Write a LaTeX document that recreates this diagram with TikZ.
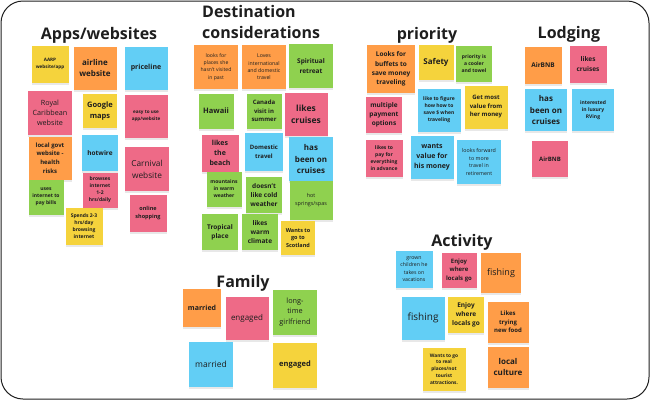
\documentclass[tikz,border=0pt]{standalone}
\usepackage{fontspec}
\setmainfont{Open Sans}
\usepackage{tikz}
\usetikzlibrary{shadows}
\definecolor{ink}{HTML}{1E1E1E}
\definecolor{nyel}{HTML}{F5D33C}
\definecolor{norg}{HTML}{FF9D48}
\definecolor{nblu}{HTML}{62CEF5}
\definecolor{npnk}{HTML}{EE6A87}
\definecolor{ngrn}{HTML}{8FD14F}

\begin{document}
\begin{tikzpicture}[x=1pt,y=-1pt,
  note/.style={inner sep=1pt,align=center,text=ink,minimum width=#1,minimum height=#1,
    drop shadow={shadow xshift=0pt,shadow yshift=-2pt,opacity=0.18}},
  note/.default=36,
  fz/.style={font=\fontsize{#1}{\fpeval{1.42*#1}}\selectfont\bfseries},
  rz/.style={font=\fontsize{#1}{\fpeval{1.42*#1}}\selectfont},
  head/.style={font=\fontsize{16}{21}\selectfont\bfseries,text=ink,inner sep=0pt,anchor=base}]
  \useasboundingbox (0,0) rectangle (650,400);
  \draw[ink,line width=1pt,rounded corners=22pt] (1,1) rectangle (649,399);

  % apps and websites
  \node[head] (tApps) at (99,39) {Apps/websites};
  \node[note=37,fill=nyel,fz=4.6] (aarp) at (50,64) {AARP\\website/app};
  \node[note=43,fill=norg,fz=8] (airline) at (95,68) {airline\\website};
  \node[note=43,fill=nblu,fz=7] (priceline) at (146,68) {priceline};
  \node[note=44,fill=npnk,rz=7.2] (royal) at (50,113) {Royal\\Caribbean\\website};
  \node[note=34,fill=nyel,fz=7.5] (gmaps) at (100,111) {Google\\maps};
  \node[note=43,fill=npnk,fz=4.6] (easy) at (146,116) {easy to use\\app/website};
  \node[note=43,fill=norg,fz=6] (govt) at (50,158) {local govt\\website -\\health\\risks};
  \node[note=36,fill=nblu,fz=6.5] (hotwire) at (100,153) {hotwire};
  \node[note=35,fill=npnk,fz=5] (browse) at (100,190) {browses\\internet\\1-2\\hrs/daily};
  \node[note=44,fill=npnk,rz=8.3] (carnival) at (147,169) {Carnival\\website};
  \node[note=35,fill=ngrn,fz=5] (bills) at (46,197) {uses\\internet to\\pay bills};
  \node[note=37,fill=nyel,fz=5] (spends) at (84,226) {Spends 2-3\\hrs/day\\browsing\\internet};
  \node[note=37,fill=npnk,fz=5.5] (online) at (148,213) {online\\shopping};

  % destination
  \node[head,anchor=base west,align=left] (tDest) at (202,38) {Destination\\considerations};
  \node[note=44,fill=norg,rz=5.1] (unseen) at (216,67) {looks for\\places she\\hasn't visited\\in past};
  \node[note=44,fill=norg,rz=5.2] (loves) at (264,67) {Loves\\international\\and domestic\\travel};
  \node[note=44,fill=ngrn,fz=6.5] (retreat) at (311,66) {Spiritual\\retreat};
  \node[note=35,fill=ngrn,fz=7.5] (hawaii) at (216,111) {Hawaii};
  \node[note=35,fill=ngrn,fz=6] (canada) at (264,111) {Canada\\visit in\\summer};
  \node[note=43,fill=npnk,fz=8.5] (cruise) at (306,114) {likes\\cruises};
  \node[note=37,fill=npnk,fz=7] (beach) at (220,153) {likes\\the\\beach};
  \node[note=38,fill=nblu,fz=6] (domestic) at (264,152) {Domestic\\travel};
  \node[note=44,fill=nblu,fz=8] (beenon) at (311,159) {has\\been on\\cruises};
  \node[note=35,fill=ngrn,fz=5] (mount) at (224,189) {mountains\\in warm\\weather};
  \node[note=36,fill=ngrn,fz=6.5] (cold) at (264,195) {doesn't\\like cold\\weather};
  \node[note=43,minimum height=39,fill=ngrn,rz=5.4] (springs) at (311,200) {hot\\springs/spas};
  \node[note=36,fill=ngrn,fz=6.5] (tropic) at (220,232) {Tropical\\place};
  \node[note=36,fill=ngrn,fz=6.5] (warm) at (260,232) {likes\\warm\\climate};
  \node[note=34,fill=nyel,fz=5.5] (scot) at (298,238) {Wants to\\go to\\Scotland};

  % priority
  \node[head] (tPrio) at (427,39) {priority};
  \node[note=48,fill=norg,fz=6.5] (buffet) at (391,69) {Looks for\\buffets to\\save money\\traveling};
  \node[note=35,fill=nyel,fz=8] (safety) at (436,62) {Safety};
  \node[note=36,fill=ngrn,fz=5] (cooler) at (474,64) {priority is\\a cooler\\and towel};
  \node[note=36,fill=npnk,fz=6.5] (payopt) at (384,115) {multiple\\payment\\options};
  \node[note=43,fill=nblu,fz=5] (figure) at (439,110) {like to figure\\how how to\\save \$ when\\traveling};
  \node[note=43,fill=nyel,fz=6] (herval) at (486,107) {Get most\\value from\\her money};
  \node[note=37,fill=npnk,fz=5] (advance) at (384,158) {likes to\\pay for\\everything\\in advance};
  \node[note=43,fill=nblu,fz=7] (hisval) at (432,157) {wants\\value for\\his money};
  \node[note=44,fill=nblu,rz=5.3] (retire) at (479,162) {looks forward\\to more\\travel in\\retirement};

  % lodging
  \node[head] (tLodge) at (569,38) {Lodging};
  \node[note=37,fill=norg,fz=6.5] (airbnbA) at (543,65) {AirBNB};
  \node[note=37,fill=npnk,fz=6.5] (likecr) at (588,64) {likes\\cruises};
  \node[note=42,fill=nblu,fz=8] (beenonB) at (546,110) {has\\been on\\cruises};
  \node[note=42,fill=nblu,fz=5] (rving) at (593,110) {interested\\in luxury\\RVing};
  \node[note=36,fill=npnk,fz=6] (airbnbB) at (550,159) {AirBNB};

  % family
  \node[head] (tFam) at (243,287) {Family};
  \node[note=38,fill=norg,fz=7] (marA) at (202,308) {married};
  \node[note=43,fill=npnk,rz=8] (engA) at (247,318) {engaged};
  \node[note=45,minimum width=44,fill=ngrn,rz=7.3] (gf) at (295,312) {long-\\time\\girlfriend};
  \node[note=45,minimum width=44,fill=nblu,rz=8.5] (marB) at (211,364) {married};
  \node[note=45,minimum width=44,fill=nyel,fz=7.5] (engB) at (295,365) {engaged};

  % activity
  \node[head] (tAct) at (462,246) {Activity};
  \node[note=37,fill=nblu,rz=5.2] (kids) at (414,269) {grown\\children he\\takes on\\vacations};
  \node[note=35,fill=npnk,fz=6] (localA) at (459,270) {Enjoy\\where\\locals go};
  \node[note=40,fill=norg,rz=9] (fishA) at (501,273) {fishing};
  \node[note=43,fill=nblu,rz=10] (fishB) at (423,318) {fishing};
  \node[note=36,fill=nyel,fz=6.5] (localB) at (466,315) {Enjoy\\where\\locals go};
  \node[note=41,fill=norg,fz=6] (food) at (508,322) {Likes\\trying\\new food};
  \node[note=43,fill=nyel,fz=4.8] (real) at (444,369) {Wants to go\\to real\\places/not\\tourist\\attractions.};
  \node[note=41,fill=norg,fz=8] (culture) at (508,367) {local\\culture};
\end{tikzpicture}
\end{document}
